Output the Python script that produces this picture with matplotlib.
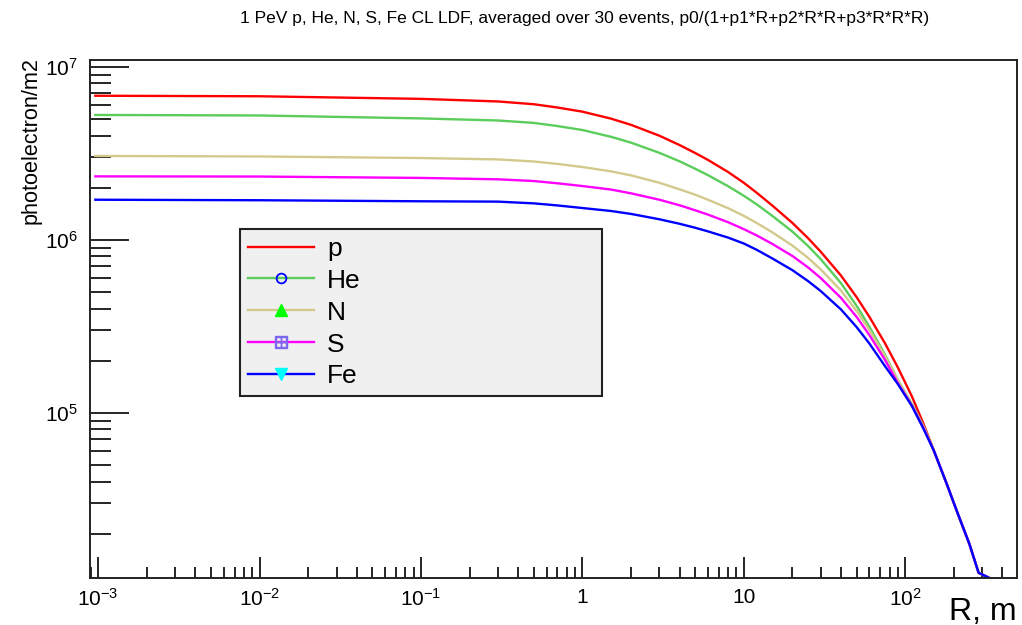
"""
LDF of 1 PeV showers (p, He, N, S, Fe), ROOT-style log-log plot.
"""
import matplotlib
matplotlib.use("Agg")
import matplotlib.pyplot as plt
import numpy as np
from matplotlib.lines import Line2D
from matplotlib.ticker import FixedLocator, FixedFormatter, LogLocator, NullFormatter

plt.rcParams["font.family"] = ["Liberation Sans", "DejaVu Sans"]
plt.rcParams["mathtext.fontset"] = "custom"
plt.rcParams["mathtext.rm"] = "Liberation Sans"

# distance from shower core, m
r_m = [0.00096, 0.01, 0.1, 0.3, 0.5, 0.7, 1, 1.5, 2, 3, 4, 5, 6, 8, 10, 12, 15, 20, 25,
       30, 40, 50, 60, 75, 90, 110, 130, 150, 180, 210, 250, 285, 330]

# log10(photoelectron/m2)
log_p = [6.832, 6.829, 6.814, 6.799, 6.783, 6.764, 6.740, 6.700, 6.664, 6.601, 6.547,
         6.501, 6.461, 6.391, 6.329, 6.272, 6.198, 6.097, 6.009, 5.930, 5.793, 5.668,
         5.554, 5.401, 5.262, 5.095, 4.935, 4.784, 4.594, 4.426, 4.241, 4.075, 4.046]
log_he = [6.721, 6.718, 6.701, 6.689, 6.675, 6.657, 6.634, 6.595, 6.561, 6.502, 6.453,
          6.410, 6.373, 6.309, 6.254, 6.205, 6.138, 6.047, 5.964, 5.887, 5.749, 5.618,
          5.497, 5.335, 5.190, 5.050, 4.923, 4.784, 4.594, 4.426, 4.241, 4.075, 4.046]
log_n = [6.484, 6.481, 6.472, 6.464, 6.452, 6.438, 6.420, 6.395, 6.372, 6.329, 6.291,
         6.260, 6.231, 6.182, 6.138, 6.097, 6.043, 5.966, 5.895, 5.828, 5.706, 5.588,
         5.478, 5.327, 5.190, 5.045, 4.917, 4.784, 4.594, 4.426, 4.241, 4.075, 4.046]
log_s = [6.366, 6.365, 6.357, 6.349, 6.339, 6.326, 6.310, 6.290, 6.268, 6.231, 6.199,
         6.170, 6.145, 6.101, 6.061, 6.025, 5.976, 5.906, 5.840, 5.778, 5.664, 5.554,
         5.449, 5.305, 5.172, 5.042, 4.912, 4.784, 4.594, 4.426, 4.241, 4.075, 4.046]
log_fe = [6.231, 6.228, 6.222, 6.220, 6.210, 6.198, 6.183, 6.166, 6.149, 6.118, 6.092,
          6.069, 6.048, 6.012, 5.978, 5.942, 5.892, 5.824, 5.761, 5.703, 5.597, 5.495,
          5.400, 5.269, 5.166, 5.039, 4.906, 4.784, 4.594, 4.426, 4.241, 4.075, 4.046]

labels = ["p", "He", "N", "S", "Fe"]
series = [log_p, log_he, log_n, log_s, log_fe]
line_colors = ["#ff0000", "#5acd5a", "#d4c98c", "#ff00ff", "#0000ff"]

x_ticks = [1e-3, 1e-2, 1e-1, 1, 10, 100]
x_ticklabels = [r"$\mathregular{10^{-3}}$", r"$\mathregular{10^{-2}}$", r"$\mathregular{10^{-1}}$",
                "1", "10", r"$\mathregular{10^{2}}$"]
y_ticks = [1e5, 1e6, 1e7]
y_ticklabels = [r"$\mathregular{10^{5}}$", r"$\mathregular{10^{6}}$", r"$\mathregular{10^{7}}$"]

fig = plt.figure(figsize=(10.22, 6.25), dpi=100)
ax = fig.add_axes([0.0881, 0.0752, 0.9070, 0.8288])

for vals, col in zip(series, line_colors):
    ax.plot(r_m, 10 ** np.asarray(vals), color=col, lw=1.7, solid_joinstyle="round")

ax.set_xscale("log")
ax.set_yscale("log")
ax.set_xlim(8.9e-4, 493)
ax.set_ylim(1.108e4, 1.093e7)

ax.xaxis.set_major_locator(FixedLocator(x_ticks))
ax.xaxis.set_major_formatter(FixedFormatter(x_ticklabels))
ax.xaxis.set_minor_locator(LogLocator(base=10, subs=range(2, 10), numticks=20))
ax.xaxis.set_minor_formatter(NullFormatter())
ax.yaxis.set_major_locator(FixedLocator(y_ticks))
ax.yaxis.set_major_formatter(FixedFormatter(y_ticklabels))
ax.yaxis.set_minor_locator(LogLocator(base=10, subs=range(2, 10), numticks=20))
ax.yaxis.set_minor_formatter(NullFormatter())

ax.tick_params(axis="x", which="major", direction="in", length=15, width=1.2,
               pad=7, labelsize=15, top=False)
ax.tick_params(axis="x", which="minor", direction="in", length=8, width=1.2, top=False)
ax.tick_params(axis="y", which="major", direction="in", length=28, width=1.2,
               pad=9, labelsize=15, right=False)
ax.tick_params(axis="y", which="minor", direction="in", length=15, width=1.2, right=False)
for sp in ax.spines.values():
    sp.set_linewidth(1.4)
    sp.set_color("#222222")

ax.set_xlabel("R, m", fontsize=23, loc="right")
ax.xaxis.set_label_coords(1.0, -0.036)
ax.set_ylabel("photoelectron/m2", fontsize=15.6, loc="top")
ax.yaxis.set_label_coords(-0.052, 1.005)

fig.text(0.572, 0.971, "1 PeV p, He, N, S, Fe CL LDF, averaged over 30 events, "
         "p0/(1+p1*R+p2*R*R+p3*R*R*R)", ha="center", va="center", fontsize=12.5)

handles = [
    Line2D([], [], color=line_colors[0], lw=1.7),
    Line2D([], [], color=line_colors[1], lw=1.7, marker="o", ms=7,
           mfc="none", mec="#0000ff", mew=1.3),
    Line2D([], [], color=line_colors[2], lw=1.7, marker="^", ms=8,
           mfc="#00ff00", mec="#00ff00"),
    Line2D([], [], color=line_colors[3], lw=1.7, marker=r"$\boxplus$", ms=9,
           mfc="#7b68ee", mec="#7b68ee"),
    Line2D([], [], color=line_colors[4], lw=1.7, marker="v", ms=8,
           mfc="#00ffff", mec="#00ffff"),
]
leg = ax.legend(handles, labels, loc="upper left",
                bbox_to_anchor=(0.162, 0.346, 0.390, 0.328), mode="expand",
                borderaxespad=0, fontsize=19, handlelength=2.5, handletextpad=0.5,
                labelspacing=0.3, borderpad=0.3, fancybox=False, framealpha=1)
leg.get_frame().set_facecolor("#f0f0f0")
leg.get_frame().set_edgecolor("#222222")
leg.get_frame().set_linewidth(1.5)

fig.savefig("out.png", dpi=100)
